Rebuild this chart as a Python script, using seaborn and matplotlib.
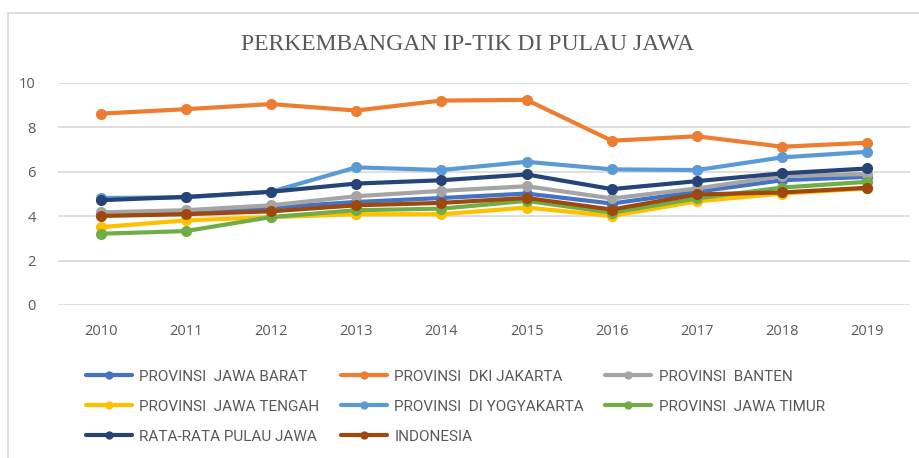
import matplotlib
matplotlib.use("Agg")
import matplotlib.pyplot as plt
import seaborn as sns
import pandas as pd
from matplotlib.patches import Rectangle

years = ["2010", "2011", "2012", "2013", "2014", "2015", "2016", "2017", "2018", "2019"]
series_names = [
    "PROVINSI  JAWA BARAT",
    "PROVINSI  DKI JAKARTA",
    "PROVINSI  BANTEN",
    "PROVINSI  JAWA TENGAH",
    "PROVINSI  DI YOGYAKARTA",
    "PROVINSI  JAWA TIMUR",
    "RATA-RATA PULAU JAWA",
    "INDONESIA",
]
jawa_barat = [4.15, 4.20, 4.39, 4.64, 4.82, 5.02, 4.57, 5.10, 5.62, 5.77]
dki_jakarta = [8.62, 8.82, 9.05, 8.76, 9.21, 9.24, 7.40, 7.60, 7.13, 7.31]
banten = [4.17, 4.27, 4.49, 4.90, 5.14, 5.35, 4.80, 5.25, 5.81, 5.90]
jawa_tengah = [3.51, 3.81, 3.96, 4.09, 4.09, 4.39, 4.01, 4.67, 5.02, 5.25]
yogyakarta = [4.82, 4.85, 5.10, 6.20, 6.08, 6.45, 6.11, 6.08, 6.65, 6.90]
jawa_timur = [3.21, 3.33, 3.96, 4.27, 4.34, 4.69, 4.16, 4.80, 5.29, 5.55]
rata_rata = [4.72, 4.87, 5.10, 5.47, 5.62, 5.88, 5.22, 5.58, 5.93, 6.15]
indonesia = [4.01, 4.09, 4.22, 4.49, 4.60, 4.82, 4.30, 4.98, 5.07, 5.28]
y_ticks = [0, 2, 4, 6, 8, 10]
title = "PERKEMBANGAN IP-TIK DI PULAU JAWA"

values = [jawa_barat, dki_jakarta, banten, jawa_tengah, yogyakarta, jawa_timur, rata_rata, indonesia]
colors = ["#4472C4", "#ED7D31", "#A5A5A5", "#FFC000", "#5B9BD5", "#70AD47", "#264478", "#9E480E"]

rows = []
for name, vals in zip(series_names, values):
    for i, (yr, v) in enumerate(zip(years, vals)):
        rows.append({"pos": i, "year": yr, "series": name, "value": v})
df = pd.DataFrame(rows)

sns.set_theme(style="white")
plt.rcParams["font.family"] = ["Open Sans", "DejaVu Sans"]

fig = plt.figure(figsize=(9.2, 4.58), dpi=100)
ax = fig.add_axes([58 / 920, 1 - 305 / 458, 852 / 920, 222 / 458])

sns.lineplot(data=df, x="pos", y="value", hue="series", hue_order=series_names,
             palette=colors, marker="o", markersize=8, markeredgewidth=0,
             linewidth=3, ax=ax, legend=True)

ax.set_xlim(-0.5, len(years) - 0.5)
ax.set_ylim(0, 10)
ax.set_xticks(range(len(years)))
ax.set_xticklabels(years)
ax.set_yticks(y_ticks)
ax.set_xlabel("")
ax.set_ylabel("")
ax.grid(axis="y", color="#D9D9D9", linewidth=1.2)
ax.set_axisbelow(True)
for s in ax.spines.values():
    s.set_visible(False)
ax.tick_params(axis="x", length=0, labelsize=10.5, colors="#595959", pad=14)
ax.tick_params(axis="y", length=0, labelsize=10.5, colors="#595959", pad=16)

handles, labels = ax.get_legend_handles_labels()
ax.get_legend().remove()
for h in handles:
    h.set_markersize(6)
order = [0, 3, 6, 1, 4, 7, 2, 5]
leg = fig.legend([handles[i] for i in order], [labels[i] for i in order],
                 ncol=3, loc="upper left",
                 bbox_to_anchor=(72 / 920, 1 - 356 / 458), frameon=False,
                 fontsize=10, handlelength=3.0, handletextpad=0.5,
                 columnspacing=1.4, labelspacing=1.05,
                 prop={"family": ["Liberation Sans Narrow", "Roboto", "DejaVu Sans"], "size": 11})
for t in leg.get_texts():
    t.set_color("#595959")

fig.text(468 / 920, 1 - 45 / 458, title, ha="center", va="center",
         fontsize=17, color="#595959", family=["Liberation Serif", "DejaVu Serif"])

fig.patches.append(Rectangle((8 / 920, -0.1), 1.2, 1 - 13 / 458 + 0.1,
                             transform=fig.transFigure, fill=False,
                             edgecolor="#D9D9D9", linewidth=1.2))

fig.savefig("out.png", dpi=100)
